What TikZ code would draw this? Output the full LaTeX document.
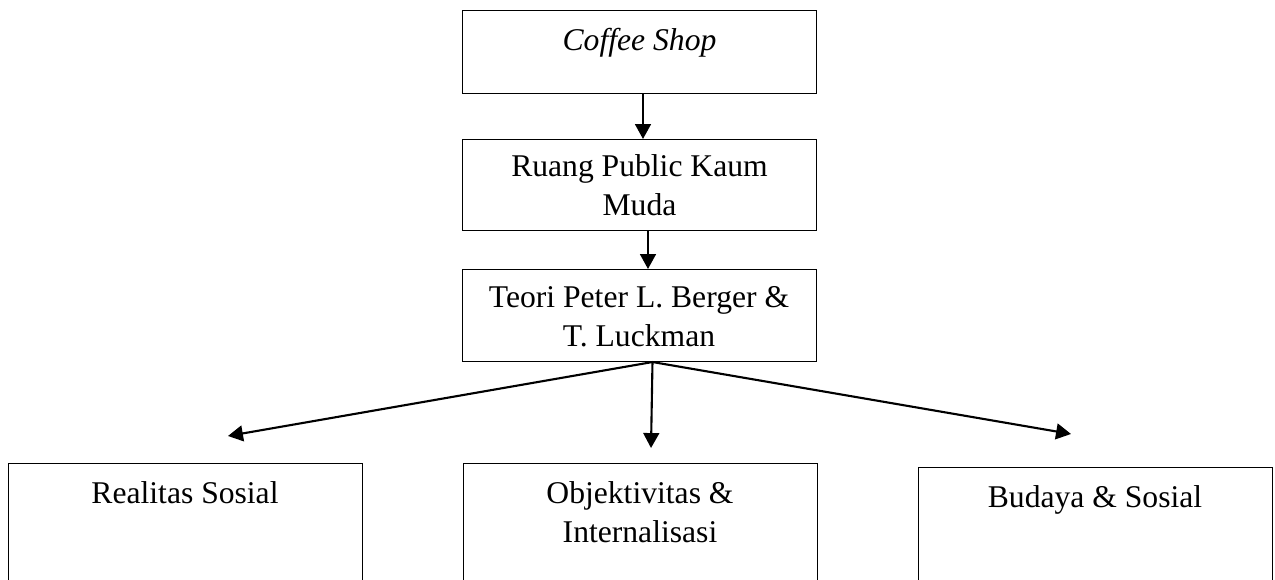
\documentclass[tikz,border=0pt]{standalone}
\usepackage{fontspec}
\setmainfont{Liberation Serif}
\usetikzlibrary{arrows.meta}
\begin{document}
\begin{tikzpicture}[x=0.02cm,y=-0.02cm,
  box/.style={draw=black,line width=0.6pt,rectangle,inner sep=0pt,anchor=north west,minimum width=7.08cm},
  lbl/.style={inner sep=0pt,anchor=base,align=center,font=\fontsize{18}{22.76}\selectfont},
  arr/.style={line width=1.2pt,-{Triangle[length=8.5pt,width=9pt]}}]
\useasboundingbox (0,0) rectangle (1275,580);
\clip (0,0) rectangle (1275,580);
\node[box,minimum height=1.66cm] (coffee) at (462,10) {};
\node[lbl] (coffeeT) at (639.5,51) {\itshape Coffee Shop};
\node[box,minimum height=1.82cm] (ruang) at (462,139) {};
\node[lbl] (ruangT) at (639.5,216) {Ruang Public Kaum\\Muda};
\node[box,minimum height=1.84cm] (teori) at (462,269) {};
\node[lbl] (teoriT) at (639,347) {Teori Peter L. Berger \&\\T. Luckman};
\node[box,minimum height=4cm] (real) at (8,463) {};
\node[lbl] (realT) at (185,504) {Realitas Sosial};
\node[box,minimum height=4cm] (obj) at (463,463) {};
\node[lbl] (objT) at (640,543) {Objektivitas \&\\Internalisasi};
\node[box,minimum height=4cm] (bud) at (918,467) {};
\node[lbl] (budT) at (1095,508) {Budaya \& Sosial};
\coordinate (br) at ([xshift=0.26cm]teori.south);
\coordinate (tl) at (228,436);
\coordinate (tm) at (651,448);
\coordinate (tr) at (1071,434);
\draw[arr] ([xshift=0.07cm]coffee.south) -- ([xshift=0.07cm]ruang.north);
\draw[arr] ([xshift=0.17cm]ruang.south) -- ([xshift=0.17cm]teori.north);
\draw[arr] (br) -- (tl);
\draw[arr] (br) -- (tm);
\draw[arr] (br) -- (tr);
\end{tikzpicture}
\end{document}
